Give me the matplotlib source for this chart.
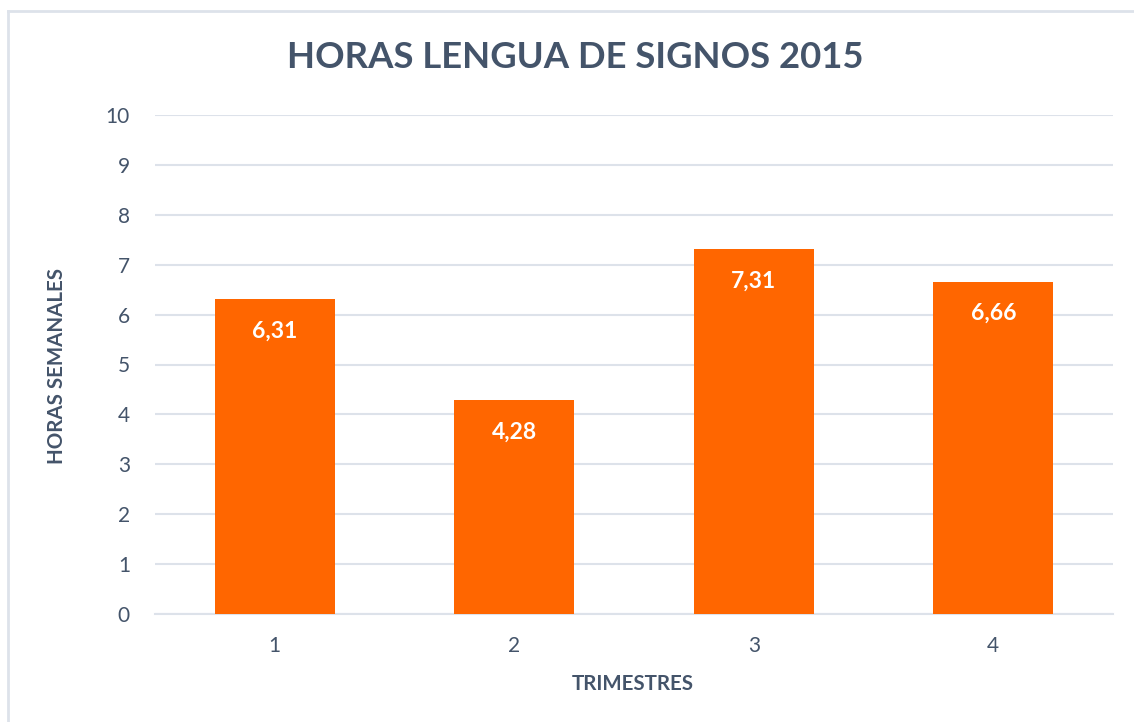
import matplotlib
matplotlib.use("Agg")
import matplotlib.pyplot as plt
from matplotlib.lines import Line2D

categories = ["1", "2", "3", "4"]
values = [6.31, 4.28, 7.31, 6.66]
value_labels = ["6,31", "4,28", "7,31", "6,66"]
yticks = list(range(0, 11))

plt.rcParams['font.family'] = ['Lato', 'DejaVu Sans']
TXT = "#44546A"
BAR = "#FF6600"
GRID = "#DDE2EA"

W, H = 1134, 722
fig = plt.figure(figsize=(W / 100, H / 100), dpi=100)
fig.patch.set_facecolor("white")

# outer chart border (top and left visible)
fig.add_artist(Line2D([7.5 / W, 1.0], [1 - 10.5 / H, 1 - 10.5 / H], color=GRID, lw=2, transform=fig.transFigure))
fig.add_artist(Line2D([7.5 / W, 7.5 / W], [0, 1 - 10.5 / H], color=GRID, lw=2, transform=fig.transFigure))

ax = fig.add_axes([155 / W, 1 - 614 / H, (1113 - 155) / W, (614 - 115) / H])
x = list(range(len(categories)))
ax.bar(x, values, width=0.5, color=BAR, zorder=3)
ax.set_xlim(-0.5, len(categories) - 0.5)
ax.set_ylim(0, 10)
ax.set_yticks(yticks)
ax.set_xticks(x)
ax.set_xticklabels(categories)
ax.grid(axis="y", color=GRID, lw=1.5, zorder=0)
ax.set_axisbelow(True)
for s in ["top", "right", "left"]:
    ax.spines[s].set_visible(False)
ax.spines["bottom"].set_color(GRID)
ax.spines["bottom"].set_linewidth(1.5)
ax.tick_params(axis="both", length=0, labelsize=15, colors=TXT)
ax.tick_params(axis="y", pad=18)
ax.tick_params(axis="x", pad=16)

for xi, v, lab in zip(x, values, value_labels):
    ax.annotate(lab, (xi, v), xytext=(0, -32), textcoords="offset pixels",
                ha="center", va="center", color="white", fontsize=16.5, fontweight="bold")

fig.text(575 / W, 1 - 58 / H, "HORAS LENGUA DE SIGNOS 2015", ha="center", va="center",
         fontsize=26.3, fontweight="bold", color=TXT)
fig.text(633 / W, 1 - 684 / H, "TRIMESTRES", ha="center", va="center",
         fontsize=14.8, fontweight="bold", color=TXT)
fig.text(57 / W, 1 - 366 / H, "HORAS SEMANALES", ha="center", va="center", rotation=90,
         fontsize=14.8, fontweight="bold", color=TXT)

fig.savefig("out.png", dpi=100, facecolor="white")
